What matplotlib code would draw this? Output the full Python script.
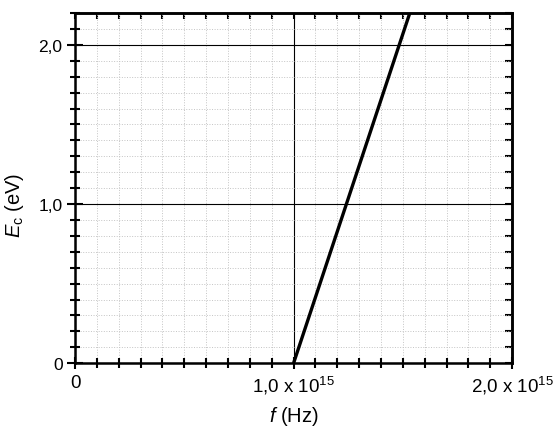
import matplotlib
matplotlib.use("Agg")
import matplotlib.pyplot as plt
from matplotlib.ticker import MultipleLocator, FixedLocator, NullFormatter

plt.rcParams['font.family'] = ['Liberation Sans', 'DejaVu Sans']
plt.rcParams['mathtext.fontset'] = 'custom'
plt.rcParams['mathtext.rm'] = 'Liberation Sans'
plt.rcParams['mathtext.it'] = 'Liberation Sans:italic'

# Energia cinética dos fotoelétrons vs frequência
freq = [1.00e15, 1.532e15]
energy = [0.0, 2.2]

x_ticks = [0, 1.0e15, 2.0e15]
x_labels = ["0", r"1,0 x 10$^{15}$", r"2,0 x 10$^{15}$"]
y_ticks = [0, 1.0, 2.0]
y_labels = ["0", "1,0", "2,0"]

fig = plt.figure(figsize=(5.56, 4.31), dpi=100)
ax = fig.add_axes([0.135, 0.155, 0.786, 0.8125])

ax.plot(freq, energy, color="black", lw=2.4, solid_capstyle="butt", zorder=5)

ax.set_xlim(0, 2.0e15)
ax.set_ylim(0, 2.2)

ax.xaxis.set_major_locator(FixedLocator(x_ticks))
ax.set_xticklabels(x_labels)
ax.xaxis.set_minor_locator(MultipleLocator(0.1e15))
ax.yaxis.set_major_locator(FixedLocator(y_ticks))
ax.set_yticklabels(y_labels)
ax.yaxis.set_minor_locator(MultipleLocator(0.1))
ax.get_xticklabels()[0].set_fontsize(11)

ax.grid(which="minor", color="#c4c4c4", ls=":", lw=0.7)
ax.grid(which="major", color="black", ls="-", lw=0.8)
ax.set_axisbelow(True)

for s in ax.spines.values():
    s.set_linewidth(1.8)

ax.tick_params(which="both", width=1.5, direction="inout")
ax.tick_params(axis="x", which="major", length=9, labelsize=13.5, pad=3)
ax.tick_params(axis="y", which="major", length=12, labelsize=12.5, pad=3)
ax.tick_params(which="minor", length=7)

# ticks de dentro no topo e à direita
top = ax.secondary_xaxis("top")
top.xaxis.set_major_locator(FixedLocator(x_ticks))
top.xaxis.set_minor_locator(MultipleLocator(0.1e15))
top.xaxis.set_major_formatter(NullFormatter())
top.tick_params(which="both", direction="in", width=1.5, length=4)
right = ax.secondary_yaxis("right")
right.yaxis.set_major_locator(FixedLocator(y_ticks))
right.yaxis.set_minor_locator(MultipleLocator(0.1))
right.yaxis.set_major_formatter(NullFormatter())
right.tick_params(which="both", direction="in", width=1.5, length=5)
for sec in (top, right):
    for s in sec.spines.values():
        s.set_linewidth(1.8)

ax.set_xlabel(r"$f$ (Hz)", fontsize=14.5, labelpad=6)
ax.set_ylabel(r"$E_{\mathrm{c}}$ (eV)", fontsize=14.5)
ax.yaxis.set_label_coords(-0.112, 0.455)

fig.savefig("out.png", dpi=100)
